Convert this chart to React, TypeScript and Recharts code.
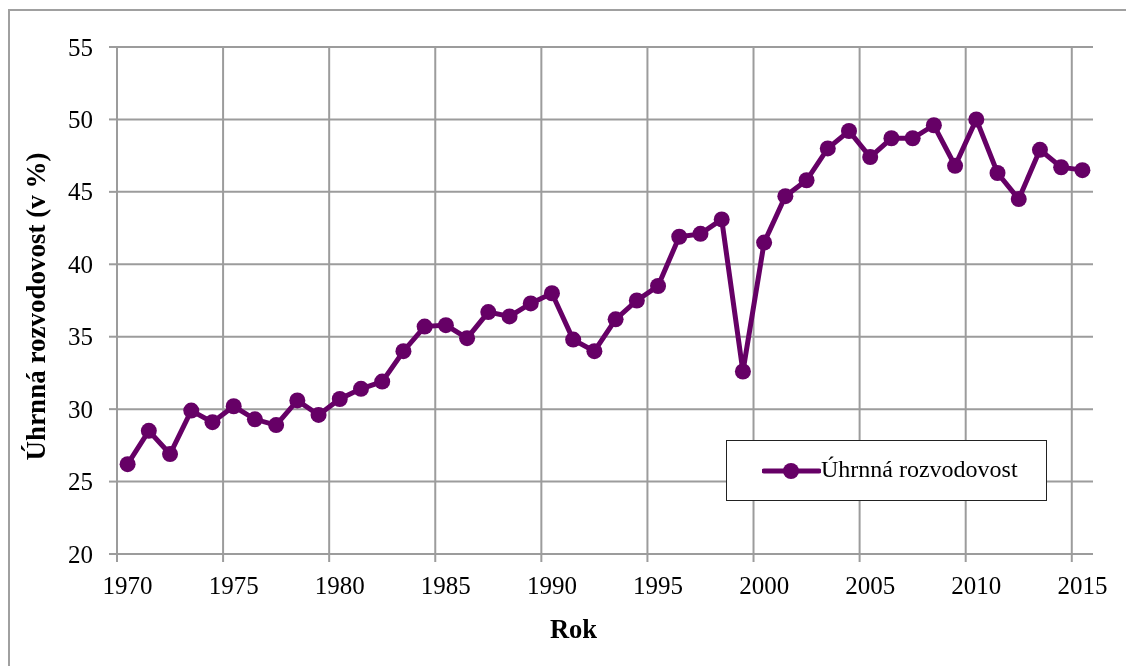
import React from 'react';
import { LineChart, Line, XAxis, YAxis, CartesianGrid, Legend, Label } from 'recharts';

const YEARS = [
  1970, 1971, 1972, 1973, 1974, 1975, 1976, 1977, 1978, 1979,
  1980, 1981, 1982, 1983, 1984, 1985, 1986, 1987, 1988, 1989,
  1990, 1991, 1992, 1993, 1994, 1995, 1996, 1997, 1998, 1999,
  2000, 2001, 2002, 2003, 2004, 2005, 2006, 2007, 2008, 2009,
  2010, 2011, 2012, 2013, 2014, 2015,
];

const RATES = [
  26.2, 28.5, 26.9, 29.9, 29.1, 30.2, 29.3, 28.9, 30.6, 29.6,
  30.7, 31.4, 31.9, 34.0, 35.7, 35.8, 34.9, 36.7, 36.4, 37.3,
  38.0, 34.8, 34.0, 36.2, 37.5, 38.5, 41.9, 42.1, 43.1, 32.6,
  41.5, 44.7, 45.8, 48.0, 49.2, 47.4, 48.7, 48.7, 49.6, 46.8,
  50.0, 46.3, 44.5, 47.9, 46.7, 46.5,
];

const X_LABELS = [1970, 1975, 1980, 1985, 1990, 1995, 2000, 2005, 2010, 2015];
const X_BOUNDS = [1969.5, 1974.5, 1979.5, 1984.5, 1989.5, 1994.5, 1999.5, 2004.5, 2009.5, 2014.5];
const Y_TICKS = [20, 25, 30, 35, 40, 45, 50, 55];

const SERIES_NAME = 'Úhrnná rozvodovost';
const Y_TITLE = 'Úhrnná rozvodovost (v %)';
const X_TITLE = 'Rok';

const X_MIN = 1969.5;
const X_MAX = 2015.5;

const FONT = '"Liberation Serif", "Times New Roman", Times, serif';
const PURPLE = '#660066';
const GRID = '#9c9c9c';

const data = YEARS.map((year, i) => ({ year, value: RATES[i] }));

// boundary ticks draw the small mark, label ticks draw the year
const XTick = (props: any) => {
  const { x, y, payload } = props;
  const v = payload.value;
  if (!Number.isInteger(v)) {
    return <line x1={x} x2={x} y1={y} y2={y + 8} stroke={GRID} strokeWidth={2} />;
  }
  return (
    <text x={x} y={y + 40} textAnchor="middle" fill="#000" style={{ fontFamily: FONT, fontSize: 25 }}>
      {v}
    </text>
  );
};

const YTick = (props: any) => {
  const { x, y, payload } = props;
  return (
    <text x={x} y={y} textAnchor="end" dominantBaseline="central" fill="#000" style={{ fontFamily: FONT, fontSize: 25 }}>
      {payload.value}
    </text>
  );
};

const YTitle = (props: any) => {
  const { viewBox } = props;
  const cx = viewBox.x + 28;
  const cy = viewBox.y + viewBox.height / 2 + 6;
  return (
    <text
      x={cx}
      y={cy}
      transform={`rotate(-90, ${cx}, ${cy})`}
      textAnchor="middle"
      dominantBaseline="central"
      fill="#000"
      style={{ fontFamily: FONT, fontSize: 27, fontWeight: 'bold' }}
    >
      {Y_TITLE}
    </text>
  );
};

const XTitle = (props: any) => {
  const { viewBox } = props;
  const cx = viewBox.x + viewBox.width / 2 - 31.5;
  return (
    <text
      x={cx}
      y={viewBox.y + 84}
      textAnchor="middle"
      fill="#000"
      style={{ fontFamily: FONT, fontSize: 26.5, fontWeight: 'bold' }}
    >
      {X_TITLE}
    </text>
  );
};

const LegendBox = () => (
  <div
    style={{
      width: 321,
      height: 61,
      boxSizing: 'border-box',
      border: '1px solid #222',
      background: '#fff',
      display: 'flex',
      alignItems: 'center',
      fontFamily: FONT,
      fontSize: 24,
      color: '#000',
    }}
  >
    <svg width={59} height={20} style={{ marginLeft: 35, display: 'block' }}>
      <line x1={2} x2={57} y1={10} y2={10} stroke={PURPLE} strokeWidth={5} strokeLinecap="round" />
      <circle cx={29} cy={10} r={8} fill={PURPLE} />
    </svg>
    <span style={{ marginTop: -2 }}>{SERIES_NAME}</span>
  </div>
);

export default function App() {
  return (
    <div style={{ width: 1110, height: 650, fontFamily: FONT }}>
      {/* outer chart frame: only the left and top edges are visible */}
      <div
        style={{
          position: 'fixed',
          left: 8,
          top: 9,
          width: 3000,
          height: 3000,
          borderLeft: '2px solid #a0a0a0',
          borderTop: '2px solid #a0a0a0',
          pointerEvents: 'none',
        }}
      />
      <LineChart
        width={1110}
        height={650}
        data={data}
        margin={{ top: 39, right: 25, left: 0, bottom: 0 }}
        style={{ fontFamily: FONT }}
      >
        <CartesianGrid
          stroke={GRID}
          strokeWidth={2}
          verticalCoordinatesGenerator={({ offset }: any) =>
            X_BOUNDS.map((b) => offset.left + ((b - X_MIN) / (X_MAX - X_MIN)) * offset.width)
          }
        />
        <XAxis
          dataKey="year"
          type="number"
          domain={[X_MIN, X_MAX]}
          ticks={[...X_BOUNDS, ...X_LABELS].sort((a, b) => a - b)}
          interval={0}
          tick={<XTick />}
          tickLine={false}
          tickSize={0}
          tickMargin={0}
          axisLine={{ stroke: GRID, strokeWidth: 2 }}
          height={104}
        >
          <Label content={<XTitle />} />
        </XAxis>
        <YAxis
          type="number"
          domain={[20, 55]}
          ticks={Y_TICKS}
          interval={0}
          width={109}
          tick={<YTick />}
          tickSize={8}
          tickMargin={16}
          tickLine={{ stroke: GRID, strokeWidth: 2 }}
          axisLine={{ stroke: GRID, strokeWidth: 2 }}
        >
          <Label content={<YTitle />} />
        </YAxis>
        <Legend
          layout="vertical"
          verticalAlign="middle"
          align="center"
          content={<LegendBox />}
          wrapperStyle={{ left: 718, top: 432, width: 321, height: 61 }}
        />
        <Line
          type="linear"
          dataKey="value"
          name={SERIES_NAME}
          stroke={PURPLE}
          strokeWidth={5}
          dot={{ r: 8, fill: PURPLE, stroke: 'none' }}
          activeDot={false}
          isAnimationActive={false}
        />
      </LineChart>
    </div>
  );
}
